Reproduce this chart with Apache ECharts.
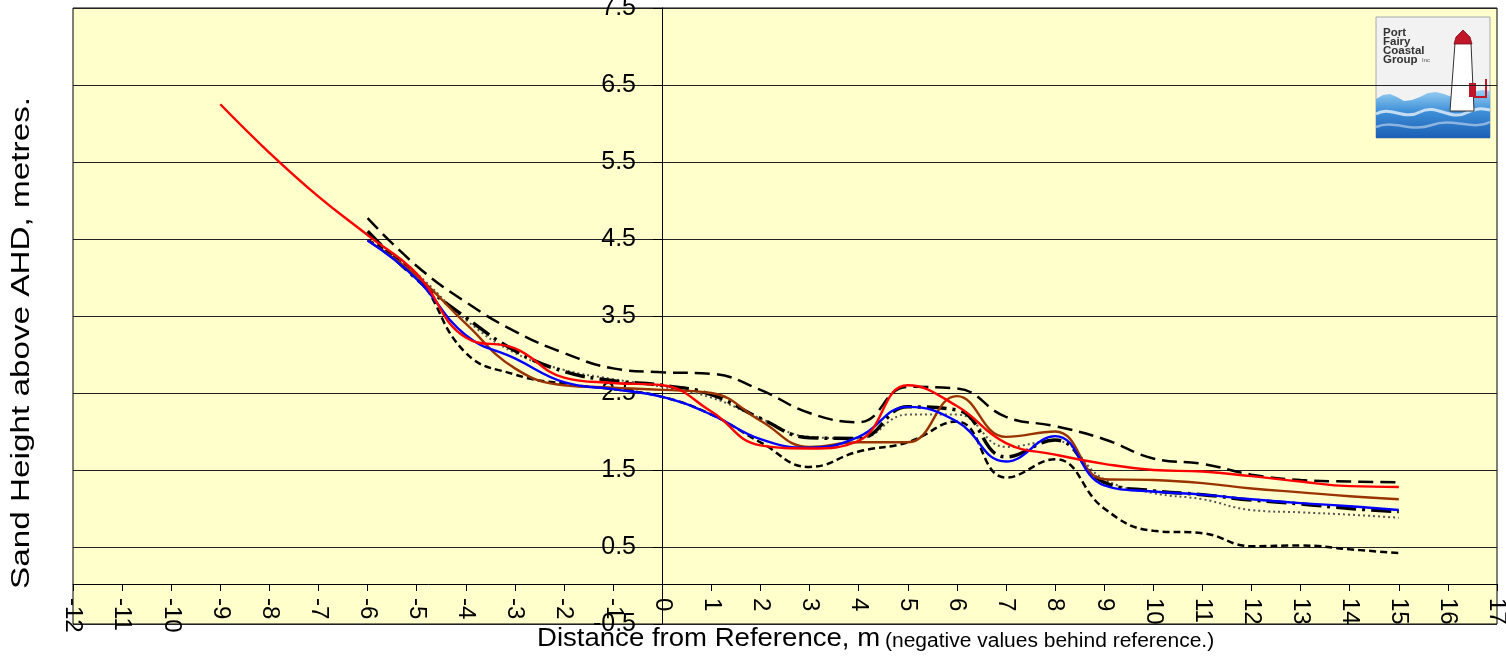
<!DOCTYPE html>
<html>
<head>
<meta charset="utf-8">
<script src="https://cdn.jsdelivr.net/npm/echarts@6/dist/echarts.min.js"></script>
<style>
html,body{margin:0;padding:0;background:#fff;}
#chart{width:1506px;height:660px;}
</style>
</head>
<body>
<div id="chart"></div>
<script>
// ---- data ----
const xMain = [-6,-5,-4,-3,-2,-1,0,1,2,3,4,5,6,7,8,9,10,11,12,13,14,15];
const xRed  = [-9,-8,-7,-6,-5,-4,-3,-2,-1,0,1,2,3,4,5,6,7,8,9,10,11,12,13,14,15];

const redVals      = [6.25,5.62,5.05,4.55,4.05,3.22,3.08,2.70,2.63,2.60,2.26,1.82,1.78,1.88,2.60,2.33,1.85,1.70,1.58,1.50,1.48,1.42,1.35,1.29,1.28];
const blueVals     = [4.48,3.98,3.25,2.95,2.64,2.55,2.45,2.22,1.90,1.79,1.93,2.32,2.13,1.61,1.94,1.30,1.22,1.18,1.12,1.07,1.03,0.98];
const brownVals    = [4.48,4.02,3.40,2.82,2.60,2.57,2.54,2.50,2.14,1.80,1.86,1.86,2.46,1.93,2.00,1.38,1.37,1.33,1.26,1.21,1.16,1.12];
const longDashVals = [4.77,4.15,3.68,3.30,3.02,2.82,2.77,2.75,2.54,2.24,2.12,2.58,2.56,2.19,2.07,1.90,1.65,1.58,1.44,1.37,1.35,1.34];
const shortDashVals= [4.49,4.02,3.02,2.74,2.62,2.55,2.45,2.22,1.86,1.54,1.74,1.86,2.13,1.40,1.64,1.00,0.71,0.68,0.51,0.52,0.47,0.42];
const dashDotVals  = [4.60,3.98,3.48,3.05,2.78,2.66,2.60,2.48,2.17,1.92,1.91,2.32,2.28,1.67,1.89,1.34,1.23,1.18,1.11,1.06,1.00,0.96];
const dottedVals   = [4.55,4.05,3.45,3.02,2.80,2.68,2.58,2.44,2.17,1.93,1.91,2.22,2.22,1.80,1.88,1.38,1.20,1.12,0.98,0.95,0.92,0.88];

const xTitle = 'Distance from Reference, m';
const xSubTitle = '(negative values behind reference.)';
const yTitle = 'Sand Height above AHD, metres.';
const logoLines = ['Port','Fairy','Coastal','Group'];

const pairs = (xs, ys) => xs.map((x, i) => [x, ys[i]]);
const FONT = '"Liberation Sans", Arial, sans-serif';

const chart = echarts.init(document.getElementById('chart'), null, {renderer:'canvas'});

function line(name, xs, ys, color, width, type, z) {
  return {
    name, type: 'line', data: pairs(xs, ys), smooth: 0.45, symbol: 'none',
    lineStyle: {color, width, type, cap: 'butt'}, z, silent: true, animation: false
  };
}

const waveFill = new echarts.graphic.LinearGradient(0, 0, 0, 1, [
  {offset: 0, color: '#9AD0F2'}, {offset: 0.45, color: '#3E8FD8'}, {offset: 1, color: '#1B5FB5'}
]);

const option = {
  animation: false,
  backgroundColor: '#ffffff',
  grid: {
    left: 73, right: 9, top: 8, bottom: 36,
    containLabel: false, outerBoundsMode: 'none',
    show: true, backgroundColor: '#FFFFCC', borderColor: '#000', borderWidth: 1
  },
  xAxis: {
    type: 'value', min: -12, max: 17, interval: 1,
    position: 'bottom', offset: -40,
    axisLine: {onZero: false, lineStyle: {color: '#000', width: 1}},
    axisTick: {show: true, length: 7, lineStyle: {color: '#000'}},
    axisLabel: {rotate: -90, fontSize: 24, color: '#000', fontFamily: FONT, margin: 14,
                showMinLabel: true, showMaxLabel: true, hideOverlap: false},
    splitLine: {show: false}
  },
  yAxis: {
    type: 'value', min: -0.5, max: 7.5, interval: 1,
    position: 'left', offset: -589,
    axisLine: {show: true, onZero: false, lineStyle: {color: '#000', width: 1}},
    axisTick: {show: true, length: 9, lineStyle: {color: '#000'}},
    axisLabel: {fontSize: 25, color: '#000', fontFamily: FONT, margin: 26,
                showMinLabel: true, showMaxLabel: true,
                formatter: v => v.toFixed(1)},
    splitLine: {show: true, lineStyle: {color: '#222', width: 1}}
  },
  series: [
    line('Short dash', xMain, shortDashVals, '#000', 2.5, [7, 4], 2),
    line('Long dash', xMain, longDashVals, '#000', 2.5, [15, 7], 2),
    line('Dotted', xMain, dottedVals, '#555', 2, [2, 3], 3),
    line('Dash dot', xMain, dashDotVals, '#000', 3.5, [20, 6, 3, 6], 3),
    line('Brown', xMain, brownVals, '#993300', 2.4, 'solid', 4),
    line('Blue', xMain, blueVals, '#0000FF', 2.4, 'solid', 5),
    line('Red', xRed, redVals, '#FF0000', 2.4, 'solid', 6)
  ],
  graphic: [
    {type: 'text', x: 22, y: 343, rotation: Math.PI / 2, scaleX: 1.28, scaleY: 1, z: 10,
     style: {text: yTitle, font: '26px ' + FONT, fill: '#000', align: 'center', verticalAlign: 'middle'}},
    {type: 'text', x: 537, y: 639, scaleX: 1.06, z: 10,
     style: {text: xTitle, font: '26px ' + FONT, fill: '#000', align: 'left', verticalAlign: 'middle'}},
    {type: 'text', x: 885, y: 641, scaleX: 1.05, z: 10,
     style: {text: xSubTitle, font: '20px ' + FONT, fill: '#000', align: 'left', verticalAlign: 'middle'}},
    {type: 'group', x: 1376, y: 17, z: 20, children: [
      {type: 'rect', shape: {x: 0, y: 0, width: 114, height: 121},
       style: {fill: '#F2F2F2', stroke: '#A8A8A8', lineWidth: 1}},
      {type: 'polygon', shape: {points: [[0,82],[7,78],[14,77],[21,80],[28,84],[36,83],[44,80],[52,76],[60,75],[68,77],[76,80],[84,80],[92,77],[100,74],[107,73],[114,74],[114,121],[0,121]]},
       style: {fill: waveFill}},
      {type: 'bezierCurve', shape: {x1: 0, y1: 97, cpx1: 14, cpy1: 88, cpx2: 28, cpy2: 104, x2: 44, y2: 95},
       style: {fill: 'none', stroke: 'rgba(255,255,255,0.7)', lineWidth: 3}},
      {type: 'bezierCurve', shape: {x1: 44, y1: 95, cpx1: 60, cpy1: 86, cpx2: 74, cpy2: 104, x2: 90, y2: 96},
       style: {fill: 'none', stroke: 'rgba(255,255,255,0.7)', lineWidth: 3}},
      {type: 'bezierCurve', shape: {x1: 90, y1: 96, cpx1: 100, cpy1: 90, cpx2: 108, cpy2: 92, x2: 114, y2: 93},
       style: {fill: 'none', stroke: 'rgba(255,255,255,0.7)', lineWidth: 3}},
      {type: 'bezierCurve', shape: {x1: 0, y1: 110, cpx1: 18, cpy1: 102, cpx2: 34, cpy2: 116, x2: 56, y2: 108},
       style: {fill: 'none', stroke: 'rgba(255,255,255,0.45)', lineWidth: 2.5}},
      {type: 'bezierCurve', shape: {x1: 56, y1: 108, cpx1: 76, cpy1: 100, cpx2: 96, cpy2: 114, x2: 114, y2: 105},
       style: {fill: 'none', stroke: 'rgba(255,255,255,0.45)', lineWidth: 2.5}},
      {type: 'polygon', shape: {points: [[79,26],[95,26],[98,94],[74,94]]},
       style: {fill: '#FFFFFF', stroke: '#333', lineWidth: 1}},
      {type: 'polygon', shape: {points: [[78,27],[96,27],[94,20],[87,13],[80,20]]},
       style: {fill: '#C0182A', stroke: '#7A0E18', lineWidth: 0.8}},
      {type: 'rect', shape: {x: 93, y: 66, width: 7, height: 14},
       style: {fill: '#C0182A'}},
      {type: 'line', shape: {x1: 98, y1: 80, x2: 110, y2: 80},
       style: {stroke: '#C0182A', lineWidth: 2}},
      {type: 'line', shape: {x1: 110, y1: 62, x2: 110, y2: 81},
       style: {stroke: '#C0182A', lineWidth: 2}},
      {type: 'text', x: 7, y: 10,
       style: {text: logoLines[0], font: 'bold 11.5px ' + FONT, fill: '#333'}},
      {type: 'text', x: 7, y: 19,
       style: {text: logoLines[1], font: 'bold 11.5px ' + FONT, fill: '#333'}},
      {type: 'text', x: 7, y: 28,
       style: {text: logoLines[2], font: 'bold 11.5px ' + FONT, fill: '#333'}},
      {type: 'text', x: 7, y: 37,
       style: {text: logoLines[3], font: 'bold 11.5px ' + FONT, fill: '#333'}},
      {type: 'text', x: 46, y: 40,
       style: {text: 'Inc', font: '6px ' + FONT, fill: '#555'}}
    ]}
  ]
};
chart.setOption(option);
</script>
</body>
</html>
